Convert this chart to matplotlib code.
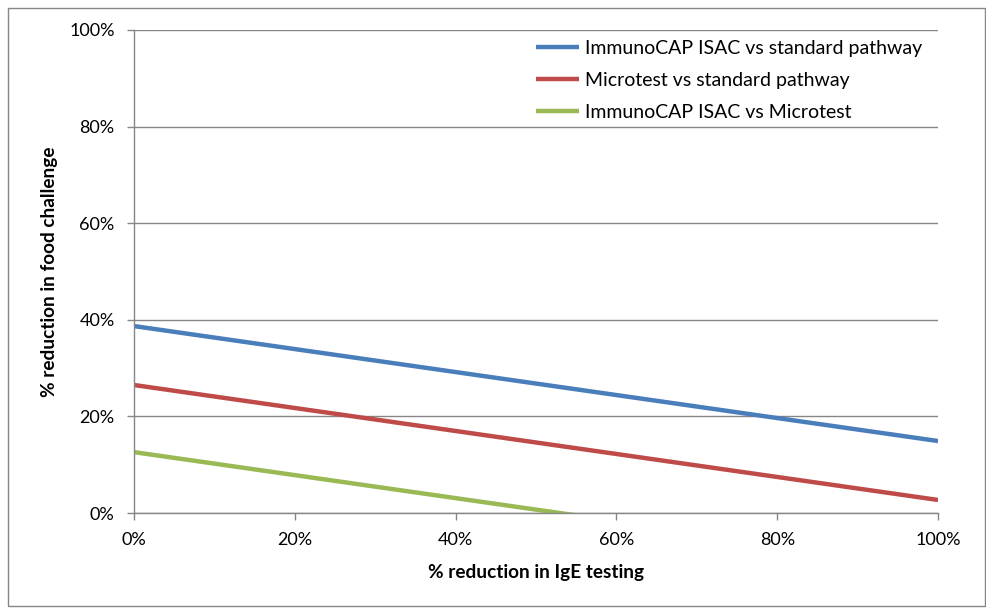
import matplotlib
matplotlib.use("Agg")
import matplotlib.pyplot as plt
from matplotlib.ticker import PercentFormatter
from matplotlib.patches import Rectangle

plt.rcParams['font.family'] = ['Lato', 'DejaVu Sans']

# Data (percent)
x_vals = [0, 100]
isac_vs_std = [38.7, 14.9]
micro_vs_std = [26.5, 2.7]
green_x = [0, 100]
isac_vs_micro = [12.6, -11.2]

series_names = ["ImmunoCAP ISAC vs standard pathway",
                "Microtest vs standard pathway",
                "ImmunoCAP ISAC vs Microtest"]
colors = ["#4A7EBB", "#BE4B48", "#98B954"]

x_ticks = [0, 20, 40, 60, 80, 100]
y_ticks = [0, 20, 40, 60, 80, 100]

fig = plt.figure(figsize=(9.86, 6.08), dpi=100)
fig.patches.append(Rectangle((8/986, 1-606/608), (985-8)/986, (606-8)/608,
                             transform=fig.transFigure, fill=False,
                             edgecolor="#868686", linewidth=1.0))
ax = fig.add_axes([134/986, 1-513/608, (938-134)/986, (513-30)/608])

ax.plot(x_vals, isac_vs_std, color=colors[0], lw=3.2, label=series_names[0], solid_capstyle='butt')
ax.plot(x_vals, micro_vs_std, color=colors[1], lw=3.2, label=series_names[1], solid_capstyle='butt')
ax.plot(green_x, isac_vs_micro, color=colors[2], lw=3.2, label=series_names[2], solid_capstyle='butt')

ax.set_xlim(0, 100)
ax.set_ylim(0, 100)
ax.set_xticks(x_ticks)
ax.set_yticks(y_ticks)
ax.xaxis.set_major_formatter(PercentFormatter(decimals=0))
ax.yaxis.set_major_formatter(PercentFormatter(decimals=0))
ax.yaxis.grid(True, color="#868686", lw=1.0)
ax.set_axisbelow(True)
for s in ["top", "right"]:
    ax.spines[s].set_visible(False)
for s in ["left", "bottom"]:
    ax.spines[s].set_color("#868686")
    ax.spines[s].set_linewidth(1.0)
ax.tick_params(axis='both', colors="#868686", length=5, width=1.0, labelcolor="black", labelsize=13)
ax.tick_params(axis='y', pad=9)
ax.tick_params(axis='x', pad=9)

ax.set_xlabel("% reduction in IgE testing", fontsize=13.7, fontweight='bold', labelpad=11)
ax.set_ylabel("% reduction in food challenge", fontsize=13.7, fontweight='bold', labelpad=8)

leg = ax.legend(loc='upper right', frameon=False, fontsize=14, handlelength=2.2,
                handletextpad=0.3, labelspacing=0.76, borderaxespad=0.0,
                bbox_to_anchor=(0.99, 0.995))

fig.savefig("out.png", dpi=100)
